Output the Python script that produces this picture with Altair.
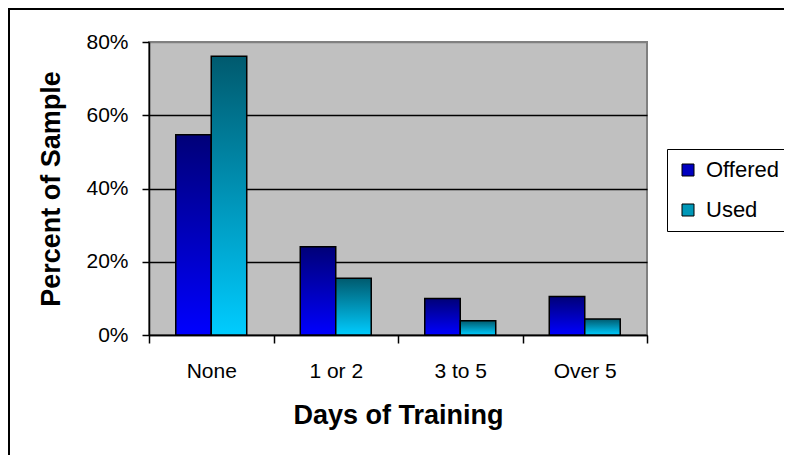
import altair as alt
import pandas as pd

categories = ["None", "1 or 2", "3 to 5", "Over 5"]
series = ["Offered", "Used"]
offered = [0.547, 0.241, 0.100, 0.105]
used = [0.761, 0.155, 0.039, 0.044]
y_ticks = [0, 0.2, 0.4, 0.6, 0.8]
legend_colors = ["#0000C0", "#0098B8"]

rows = []
for c, o, u in zip(categories, offered, used):
    rows.append({"cat": c, "series": "Offered", "val": o})
    rows.append({"cat": c, "series": "Used", "val": u})
df = pd.DataFrame(rows)

grad_offered = {
    "gradient": "linear", "x1": 0, "y1": 0, "x2": 0, "y2": 1,
    "stops": [{"offset": 0, "color": "#000078"}, {"offset": 1, "color": "#0000FF"}],
}
grad_used = {
    "gradient": "linear", "x1": 0, "y1": 0, "x2": 0, "y2": 1,
    "stops": [{"offset": 0, "color": "#005A6E"}, {"offset": 1, "color": "#00CCFF"}],
}

FONT = "Liberation Sans"

x_enc = alt.X(
    "cat:N", sort=categories,
    scale=alt.Scale(paddingInner=0, paddingOuter=0),
    axis=alt.Axis(
        title="Days of Training", labelAngle=0, tickBand="extent", tickSize=8,
        labelPadding=17, labelFontSize=21, titleFontSize=27, titleFontWeight="bold",
        titlePadding=21, grid=False,
    ),
)
xo_enc = alt.XOffset("series:N", sort=series,
                     scale=alt.Scale(paddingInner=0, paddingOuter=0.754))
y_enc = alt.Y(
    "val:Q", scale=alt.Scale(domain=[0, 0.8]),
    axis=alt.Axis(
        title="Percent of Sample", format="%", values=y_ticks, tickSize=7,
        labelPadding=14, labelFontSize=21, titleFontSize=27, titleFontWeight="bold",
        titlePadding=20, grid=True, gridWidth=1.5,
        gridColor={"condition": {"test": "datum.value >= 0.8", "value": "#808080"}, "value": "black"},
    ),
)

legend_bars = alt.Chart(df).mark_bar().encode(
    x=x_enc, xOffset=xo_enc, y=y_enc,
    color=alt.Color(
        "series:N", sort=series,
        scale=alt.Scale(domain=series, range=legend_colors),
        legend=alt.Legend(
            title=None, orient="none", legendX=518, legendY=107,
            symbolType="square", symbolSize=144, symbolStrokeColor="black",
            symbolStrokeWidth=1, symbolOpacity=1, labelFontSize=22, labelFont=FONT,
            labelColor="black", rowPadding=18, padding=10, labelOffset=7,
            strokeColor="black", fillColor="white",
        ),
    ),
)

grad_bars = alt.Chart(df).mark_bar(stroke="black", strokeWidth=1.5).encode(
    x=x_enc, xOffset=xo_enc, y=y_enc,
    fill=alt.condition("datum.series === 'Offered'", alt.value(grad_offered), alt.value(grad_used)),
)

frame_df = pd.DataFrame({"a": [0]})
frame = alt.Chart(frame_df).mark_rect(fillOpacity=0, stroke="black", strokeWidth=2).encode(
    x=alt.value(-140), x2=alt.value(700), y=alt.value(-33), y2=alt.value(440),
)
bottom = alt.Chart(frame_df).mark_rule(color="#999999", strokeWidth=1.5).encode(
    x=alt.value(-141), x2=alt.value(700), y=alt.value(419.5),
)

chart = alt.layer(legend_bars, grad_bars, frame, bottom).properties(
    width=498, height=293,
    autosize=alt.AutoSizeParams(type="none"),
    padding={"left": 141, "top": 34, "right": 137, "bottom": 120},
).configure_view(
    fill="#C0C0C0", stroke="#808080", strokeWidth=2,
).configure_axis(
    domainColor="black", domainWidth=1.5, tickColor="black", tickWidth=1.5,
    labelColor="black", titleColor="black", labelFont=FONT, titleFont=FONT,
)

chart.save("out.html", embed_options={"renderer": "svg", "actions": False})
